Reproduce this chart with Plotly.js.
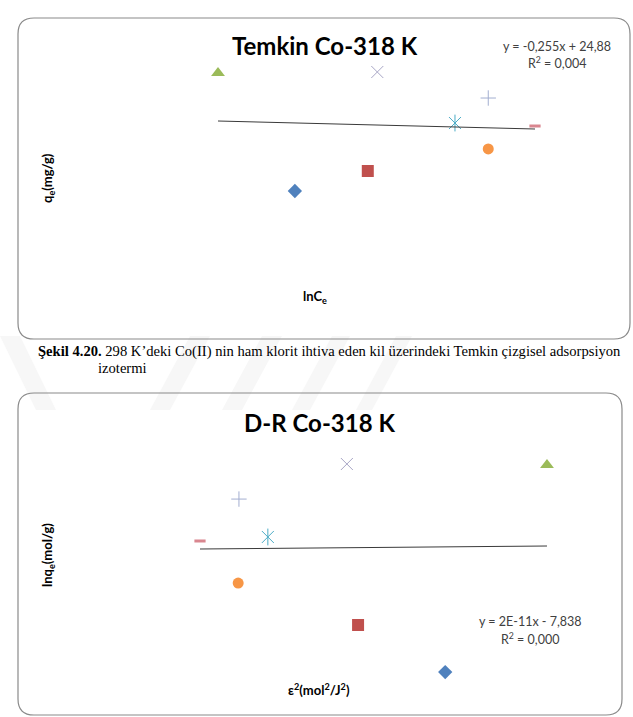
<!DOCTYPE html>
<html>
<head>
<meta charset="utf-8">
<script src="https://cdn.plot.ly/plotly-3.0.1.min.js"></script>
<style>
  html, body { margin: 0; padding: 0; background: #ffffff; }
  #fig { width: 633px; height: 717px; }
</style>
</head>
<body>
<div id="fig"></div>
<script>
// ---- Temkin isotherm, Co(II) at 318 K ----
const temkinSeries = ["Seri1", "Seri2", "Seri3", "Seri4", "Seri5", "Seri6", "Seri7", "Seri8"];
const temkinLnCe = [2.47, 3.39, 1.50, 3.51, 4.49, 4.91, 4.91, 5.50];
const temkinQe = [15.57, 18.12, 30.62, 30.75, 24.24, 20.93, 27.43, 23.86];
const temkinSlope = -0.255;
const temkinIntercept = 24.88;
const temkinEquation = "y = -0,255x + 24,88";
const temkinR2 = "R<sup>2</sup> = 0,004";

// ---- Dubinin-Radushkevich isotherm, Co(II) at 318 K ----
const drSeries = ["Seri1", "Seri2", "Seri3", "Seri4", "Seri5", "Seri6", "Seri7", "Seri8"];
const drEps2 = [7.36e8, 5.10e8, 1.00e9, 4.81e8, 2.76e8, 1.99e8, 2.01e8, 1.00e8];
const drLnQe = [-8.573, -8.291, -7.333, -7.327, -7.764, -8.040, -7.537, -7.788];
const drSlope = 2e-11;
const drIntercept = -7.838;
const drEquation = "y = 2E-11x - 7,838";
const drR2 = "R<sup>2</sup> = 0,000";

// Marker style per series (Excel-like defaults); the star marker is an x with a vertical stroke
const symbols = ["diamond", "square", "triangle-up", "x-thin-open", "x-thin-open", "circle", "cross-thin-open", "line-ew-open"];
const extraSymbols = [null, null, null, null, "line-ns-open", null, null, null];
const colors = ["#4F81BD", "#C0504D", "#9BBB59", "#A8A6C6", "#4BACC6", "#F79646", "#A3AED0", "#D9868F"];
const sizes = [11, 12, 12, 12, 12, 11, 11, 8];
const lineWidths = [0, 0, 0, 1, 1, 0, 1, 3];

const W = 633, H = 717;
const px = v => v / W;
const py = v => 1 - v / H;

function pointTraces(xs, ys, names, xa, ya) {
  const out = [];
  xs.forEach((x, i) => {
    const layers = [symbols[i]];
    if (extraSymbols[i]) layers.push(extraSymbols[i]);
    layers.forEach(sym => out.push({
      type: "scatter", mode: "markers",
      x: [x], y: [ys[i]], xaxis: xa, yaxis: ya,
      name: names[i], showlegend: false, cliponaxis: false,
      hoverinfo: "x+y",
      marker: {
        symbol: sym, size: sizes[i], color: colors[i],
        line: { color: colors[i], width: lineWidths[i] }
      }
    }));
  });
  return out;
}

function trendTrace(xs, slope, intercept, xa, ya) {
  const lo = Math.min(...xs), hi = Math.max(...xs);
  return {
    type: "scatter", mode: "lines",
    x: [lo, hi], y: [slope * lo + intercept, slope * hi + intercept],
    xaxis: xa, yaxis: ya, showlegend: false, hoverinfo: "skip",
    line: { color: "#3a3a3a", width: 1 }
  };
}

// Rounded frame around each chart, in pixel terms converted to paper units
function roundedBox(x0, y0, x1, y1, r) {
  const rx = r / W, ry = r / H;
  const L = px(x0), R = px(x1), T = py(y0), B = py(y1);
  return {
    type: "path", xref: "paper", yref: "paper", layer: "below",
    path: `M ${L + rx} ${T} L ${R - rx} ${T} Q ${R} ${T} ${R} ${T - ry} ` +
          `L ${R} ${B + ry} Q ${R} ${B} ${R - rx} ${B} L ${L + rx} ${B} ` +
          `Q ${L} ${B} ${L} ${B + ry} L ${L} ${T - ry} Q ${L} ${T} ${L + rx} ${T} Z`,
    line: { color: "#8a8a8a", width: 1.2 }, fillcolor: "rgba(0,0,0,0)"
  };
}

// Faint diagonal bands of the page watermark
function band(pts) {
  return {
    type: "path", xref: "paper", yref: "paper", layer: "below",
    path: "M " + pts.map(p => `${px(p[0])} ${py(p[1])}`).join(" L ") + " Z",
    line: { width: 0 }, fillcolor: "#f7f7f7"
  };
}

const hidden = {
  showgrid: false, zeroline: false, showline: false,
  showticklabels: false, ticks: "", fixedrange: true
};

const traces = [
  ...pointTraces(temkinLnCe, temkinQe, temkinSeries, "x", "y"),
  trendTrace(temkinLnCe, temkinSlope, temkinIntercept, "x", "y"),
  ...pointTraces(drEps2, drLnQe, drSeries, "x2", "y2"),
  trendTrace(drEps2, drSlope, drIntercept, "x2", "y2")
];

const chartFont = "Lato, 'Open Sans', sans-serif";
const serifFont = "'Liberation Serif', 'Times New Roman', serif";
const ann = (text, x, y, size, opts = {}) => Object.assign({
  text, x: px(x), y: py(y), xref: "paper", yref: "paper",
  showarrow: false, xanchor: "center", yanchor: "middle",
  font: { family: chartFont, size, color: "#000000" }
}, opts);
const eqFont = { family: chartFont, size: 12.5, color: "#404040" };

const layout = {
  width: W, height: H,
  margin: { l: 0, r: 0, t: 0, b: 0 },
  paper_bgcolor: "#ffffff", plot_bgcolor: "rgba(0,0,0,0)",
  showlegend: false,
  xaxis: Object.assign({ domain: [px(100), px(600)], range: [0.011, 6.320], anchor: "y" }, hidden),
  yaxis: Object.assign({ domain: [py(290), py(60)], range: [2.943, 32.28], anchor: "x" }, hidden),
  xaxis2: Object.assign({ domain: [px(100), px(600)], range: [-1.5937e8, 1.1375e9], anchor: "y2" }, hidden),
  yaxis2: Object.assign({ domain: [py(690), py(440)], range: [-8.6803, -7.1833], anchor: "x2" }, hidden),
  shapes: [
    band([[0, 336], [20, 336], [56, 410], [36, 410]]),
    band([[150, 410], [190, 336], [210, 336], [170, 410]]),
    band([[222, 410], [262, 336], [282, 336], [242, 410]]),
    band([[292, 410], [332, 336], [350, 336], [310, 410]]),
    band([[356, 410], [396, 336], [412, 336], [372, 410]]),
    roundedBox(18, 18, 630, 339, 16),
    roundedBox(18, 393, 622, 715, 16)
  ],
  annotations: [
    ann("<b>Temkin Co-318 K</b>", 325, 45, 24),
    ann(temkinEquation, 557, 46, 12.5, { font: eqFont }),
    ann(temkinR2, 557, 63, 12.5, { font: eqFont }),
    ann("<b>q<sub>e</sub>(mg/g)</b>", 48, 178, 13, { textangle: -90 }),
    ann("<b>lnC<sub>e</sub></b>", 315, 297, 13),

    ann("<b>D-R Co-318 K</b>", 319, 422, 24),
    ann(drEquation, 530, 621, 12.5, { font: eqFont }),
    ann(drR2, 530, 638, 12.5, { font: eqFont }),
    ann("<b>lnq<sub>e</sub>(mol/g)</b>", 48, 555, 13, { textangle: -90 }),
    ann("<b>ε<sup>2</sup>(mol<sup>2</sup>/J<sup>2</sup>)</b>", 319, 689, 13),

    ann("<b>Şekil 4.20.</b> 298 K’deki Co(II) nin ham klorit ihtiva eden kil üzerindeki Temkin çizgisel adsorpsiyon",
        36, 351, 14.6, { xanchor: "left", font: { family: serifFont, size: 14.6, color: "#000000" } }),
    ann("izotermi", 96, 368, 14.6, { xanchor: "left", font: { family: serifFont, size: 14.6, color: "#000000" } })
  ]
};

Plotly.newPlot("fig", traces, layout, { displayModeBar: false, staticPlot: true });
</script>
</body>
</html>
